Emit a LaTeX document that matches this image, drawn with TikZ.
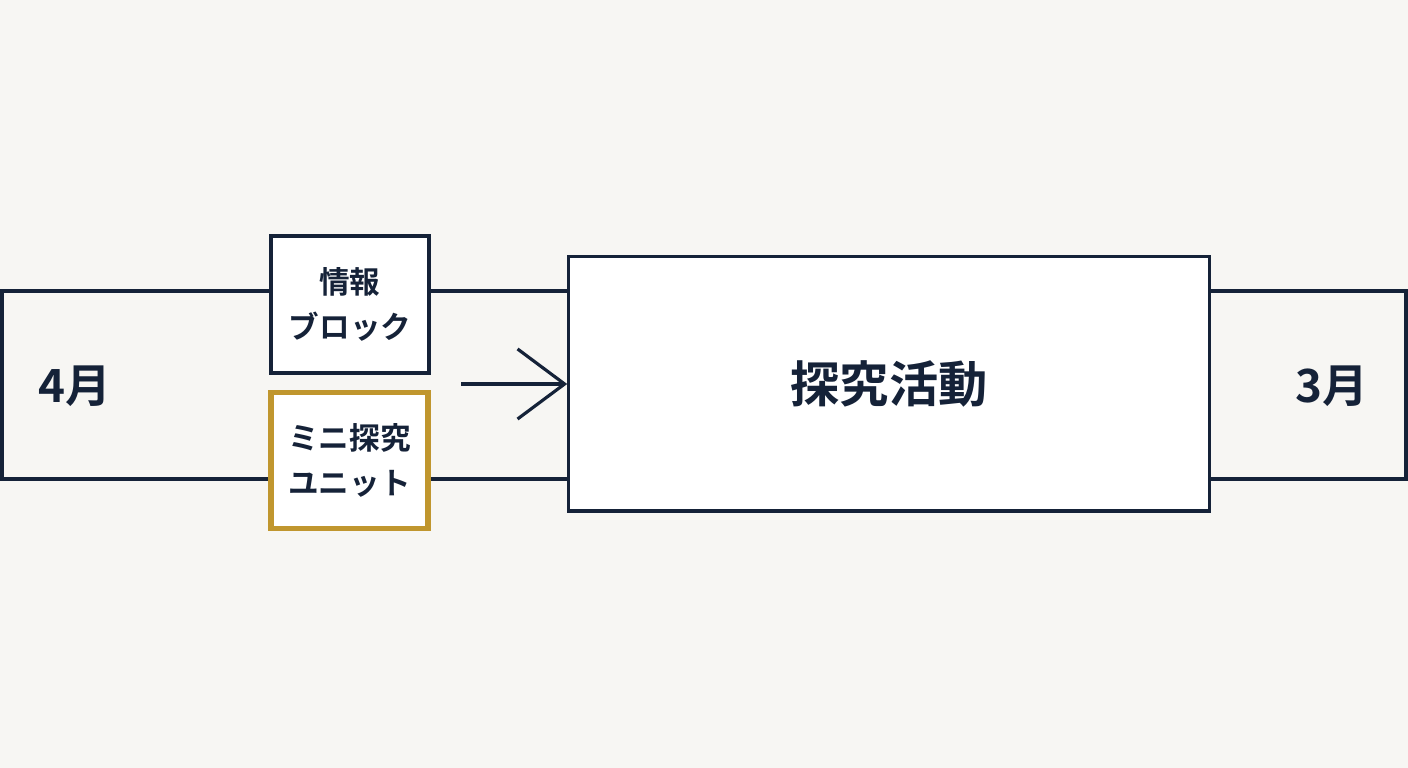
\documentclass[tikz,border=0pt]{standalone}
\usepackage{fontspec}
\setmainfont{Noto Sans CJK JP}[BoldFont={Noto Sans CJK JP Bold}]
\usetikzlibrary{arrows.meta}
\definecolor{navy}{HTML}{152238}
\definecolor{paper}{HTML}{F7F6F3}
\definecolor{gold}{HTML}{C0962E}
\begin{document}
\begin{tikzpicture}[
        x=0.01cm, y=-0.01cm,
        band/.style={draw=navy, line width=0.9pt},
        unit/.style={rectangle, draw=navy, fill=white, line width=0.9pt, inner sep=0pt, align=center, font=\fontsize{8.7}{13}\selectfont\bfseries, text=navy},
        label/.style={font=\fontsize{13}{15}\selectfont\bfseries, text=navy},
        arrow/.style={-{Straight Barb[length=0.47cm, width=0.7cm, line width=0.9pt]}, draw=navy, line width=0.9pt}
    ]
        % Background
        \fill[paper] (0,0) rectangle (1408,768);
        \useasboundingbox (0,0) rectangle (1408,768);

        % Year band
        \draw[band] (2,291) rectangle (1406,479);
        \node[label] (apr) at (75,386) {4月};
        \node[label] (mar) at (1332,386) {3月};

        % Small units
        \node[unit, minimum width=1.58cm, minimum height=1.37cm] (info) at (350,304.5) {情報\\ブロック};
        \node[unit, draw=gold, line width=1.6pt, minimum width=1.57cm, minimum height=1.36cm] (mini) at (349.5,460.5) {ミニ探究\\ユニット};

        % Main activity
        \node[unit, minimum width=6.4cm, minimum height=2.54cm, font=\fontsize{14}{16}\selectfont\bfseries] (main) at (889,384) {探究活動};

        % Arrow
        \coordinate (start) at (461,384);
        \draw[arrow] (start) -- (main.west);
    \end{tikzpicture}
\end{document}
